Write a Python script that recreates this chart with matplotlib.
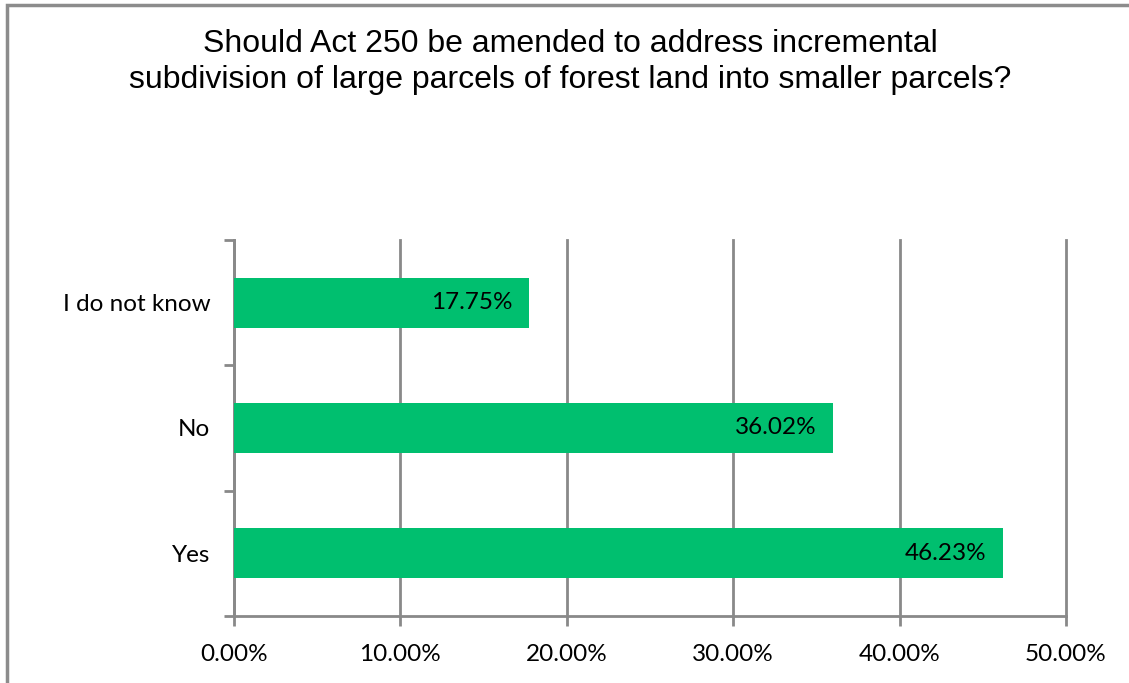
import matplotlib.pyplot as plt
from matplotlib.patches import Rectangle

categories = ["Yes", "No", "I do not know"]
values = [46.23, 36.02, 17.75]
xticks = [0, 10, 20, 30, 40, 50]
title = "Should Act 250 be amended to address incremental\nsubdivision of large parcels of forest land into smaller parcels?"

green = "#00BF6F"
gray = "#898989"

fig = plt.figure(figsize=(11.29, 6.83), dpi=100)
fig.patches.append(Rectangle((7 / 1129, -0.01), 1.1, 1.01 - 5 / 683, transform=fig.transFigure,
                             fill=False, edgecolor="#8c8c8c", linewidth=2.5))

ax = fig.add_axes([234 / 1129, 1 - 616 / 683, (1066 - 234) / 1129, (616 - 240) / 683])
ypos = range(len(categories))
ax.barh(ypos, values, height=0.4, color=green, zorder=3)
for y, v in zip(ypos, values):
    ax.text(v - 1.0, y, f"{v:.2f}%", ha="right", va="center", fontsize=17.5,
            family="Lato", color="black", zorder=4)

ax.set_xlim(0, 50)
ax.set_ylim(-0.5, 2.5)
ax.set_xticks(xticks)
ax.set_xticklabels([f"{t:.2f}%" for t in xticks], family="Lato", fontsize=17.5)
ax.set_yticks(list(ypos))
ax.set_yticklabels(categories, family="Lato", fontsize=17.5)
ax.set_yticks([-0.5, 0.5, 1.5, 2.5], minor=True)
ax.tick_params(axis="y", which="major", length=0, pad=17)
ax.tick_params(axis="y", which="minor", length=7, width=2, color=gray)
ax.tick_params(axis="x", length=7, width=2, color=gray, pad=13)
ax.grid(axis="x", color=gray, linewidth=2, zorder=0)
for gl in ax.get_xgridlines():
    gl.set_clip_on(False)
for s in ["top", "right"]:
    ax.spines[s].set_visible(False)
for s in ["left", "bottom"]:
    ax.spines[s].set_color(gray)
    ax.spines[s].set_linewidth(2)

fig.text(0.505, 1 - 62 / 683, title, ha="center", va="center", fontsize=23,
         family="Liberation Sans", linespacing=1.27)

fig.savefig("out.png", dpi=100)
